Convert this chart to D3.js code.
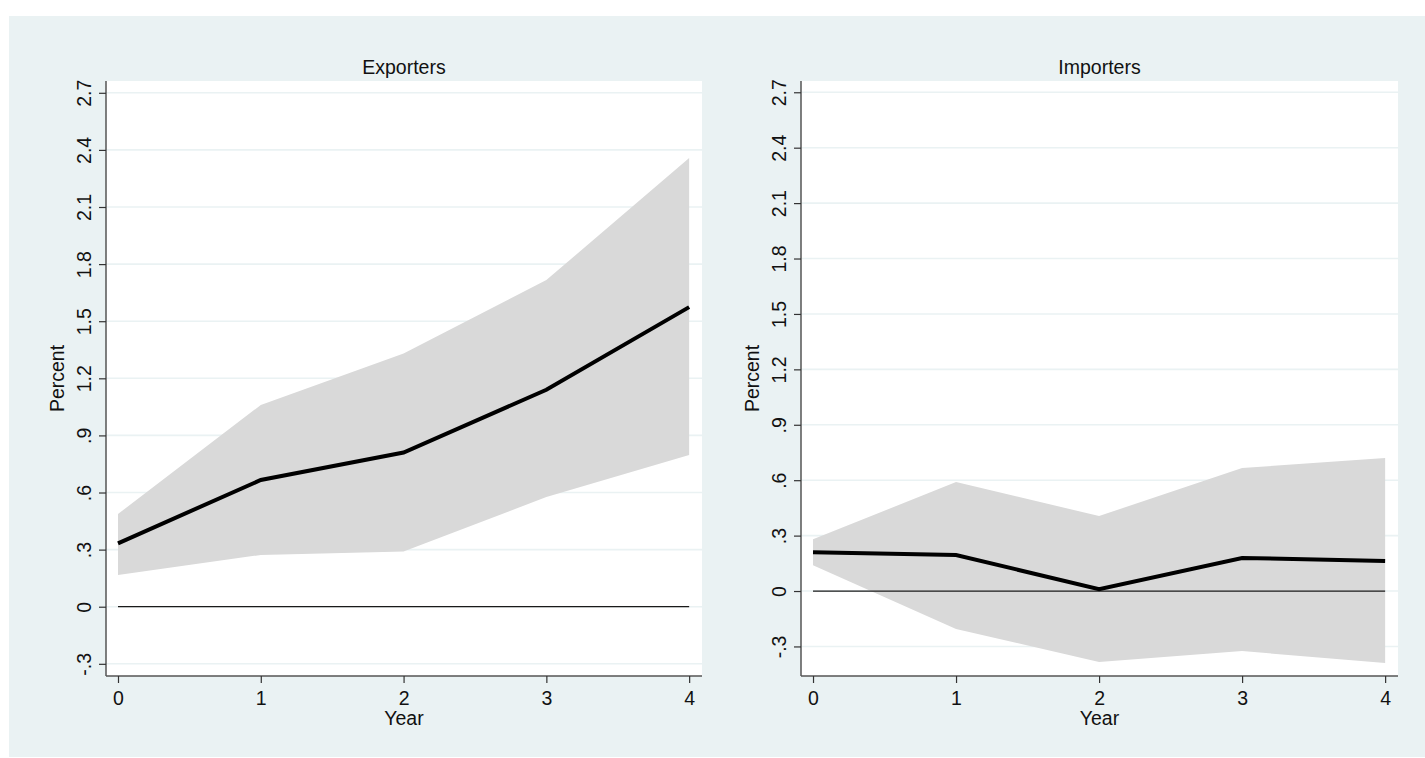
<!DOCTYPE html>
<html>
<head>
<meta charset="utf-8">
<script src="https://cdn.jsdelivr.net/npm/d3@7"></script>
<style>
  body { margin: 0; background: #fff; }
  text { font-family: "Liberation Sans", Arial, sans-serif; fill: #111; }
</style>
</head>
<body>
<svg id="chart" width="1425" height="758"></svg>
<script>
// data
var years = [0, 1, 2, 3, 4];
var yTicks = [-0.3, 0, 0.3, 0.6, 0.9, 1.2, 1.5, 1.8, 2.1, 2.4, 2.7];
var yTickLabels = ["-.3", "0", ".3", ".6", ".9", "1.2", "1.5", "1.8", "2.1", "2.4", "2.7"];

var expEst   = [0.333, 0.666, 0.81, 1.14, 1.574];
var expUpper = [0.487, 1.06, 1.33, 1.716, 2.357];
var expLower = [0.167, 0.272, 0.29, 0.576, 0.797];

var impEst   = [0.21, 0.195, 0.01, 0.179, 0.162];
var impUpper = [0.28, 0.59, 0.406, 0.666, 0.72];
var impLower = [0.14, -0.206, -0.384, -0.325, -0.39];

var svg = d3.select("#chart");

// outer graph region
svg.append("rect")
  .attr("x", 9).attr("y", 16)
  .attr("width", 1416).attr("height", 741)
  .style("fill", "#eaf2f3");

var panels = [
  { title: "Exporters", est: expEst, upper: expUpper, lower: expLower,
    left: 106, right: 702, top: 81, bottom: 676, yMin: -0.364, yMax: 2.762 },
  { title: "Importers", est: impEst, upper: impUpper, lower: impLower,
    left: 801, right: 1398, top: 81, bottom: 676, yMin: -0.46, yMax: 2.761 }
];

panels.forEach(function(p) {
  var xScale = d3.scaleLinear()
    .domain([-0.084, 4.09])
    .range([p.left, p.right]);
  var yScale = d3.scaleLinear()
    .domain([p.yMin, p.yMax])
    .range([p.bottom, p.top]);

  var g = svg.append("g");

  // plot region
  g.append("rect")
    .attr("x", p.left).attr("y", p.top)
    .attr("width", p.right - p.left).attr("height", p.bottom - p.top)
    .style("fill", "#fff");

  // grid lines
  g.selectAll(".grid").data(yTicks)
    .enter()
    .append("line")
    .attr("x1", p.left).attr("x2", p.right)
    .attr("y1", d => yScale(d)).attr("y2", d => yScale(d))
    .style("stroke", "#eaf2f3")
    .style("stroke-width", 1.6);

  // confidence band
  var area = d3.area()
    .x((d, i) => xScale(years[i]))
    .y0((d, i) => yScale(p.lower[i]))
    .y1((d, i) => yScale(p.upper[i]));
  g.append("path")
    .datum(p.est)
    .attr("d", area)
    .style("fill", "#d9d9d9");

  // zero line
  g.append("line")
    .attr("x1", xScale(0)).attr("x2", xScale(4))
    .attr("y1", yScale(0)).attr("y2", yScale(0))
    .style("stroke", "#1a1a1a")
    .style("stroke-width", 1.3);

  // point estimate
  var line = d3.line()
    .x((d, i) => xScale(years[i]))
    .y(d => yScale(d));
  g.append("path")
    .datum(p.est)
    .attr("d", line)
    .style("fill", "none")
    .style("stroke", "#000")
    .style("stroke-width", 4);

  // y axis
  var yAxis = d3.axisLeft(yScale)
    .tickValues(yTicks)
    .tickFormat((d, i) => yTickLabels[i])
    .tickSize(7);
  var ya = g.append("g")
    .attr("transform", "translate(" + p.left + ",0)")
    .call(yAxis);
  ya.select(".domain").attr("d", "M0," + (p.top) + "V" + p.bottom)
    .style("stroke", "#555").style("stroke-width", 1.5);
  ya.selectAll(".tick line").style("stroke", "#333").style("stroke-width", 1.2);
  ya.selectAll(".tick text")
    .attr("transform", "rotate(-90)")
    .attr("x", 0).attr("y", -22)
    .attr("dy", "0.35em")
    .style("text-anchor", "middle")
    .style("font-size", "19.5px");

  // x axis
  var xAxis = d3.axisBottom(xScale)
    .tickValues(years)
    .tickFormat(d3.format("d"))
    .tickSize(7)
    .tickPadding(8);
  var xa = g.append("g")
    .attr("transform", "translate(0," + p.bottom + ")")
    .call(xAxis);
  xa.select(".domain").attr("d", "M" + p.left + ",0H" + p.right)
    .style("stroke", "#555").style("stroke-width", 1.5);
  xa.selectAll(".tick line").style("stroke", "#333").style("stroke-width", 1.2);
  xa.selectAll(".tick text").style("font-size", "19.5px");

  // titles
  g.append("text")
    .text(p.title)
    .attr("x", (p.left + p.right) / 2)
    .attr("y", 74)
    .style("text-anchor", "middle")
    .style("font-size", "19.5px");

  g.append("text")
    .text("Year")
    .attr("x", (p.left + p.right) / 2)
    .attr("y", 725)
    .style("text-anchor", "middle")
    .style("font-size", "19.5px");

  g.append("text")
    .text("Percent")
    .attr("transform", "translate(" + (p.left - 42) + "," + ((p.top + p.bottom) / 2) + ") rotate(-90)")
    .style("text-anchor", "middle")
    .style("font-size", "19.5px");
});
</script>
</body>
</html>
